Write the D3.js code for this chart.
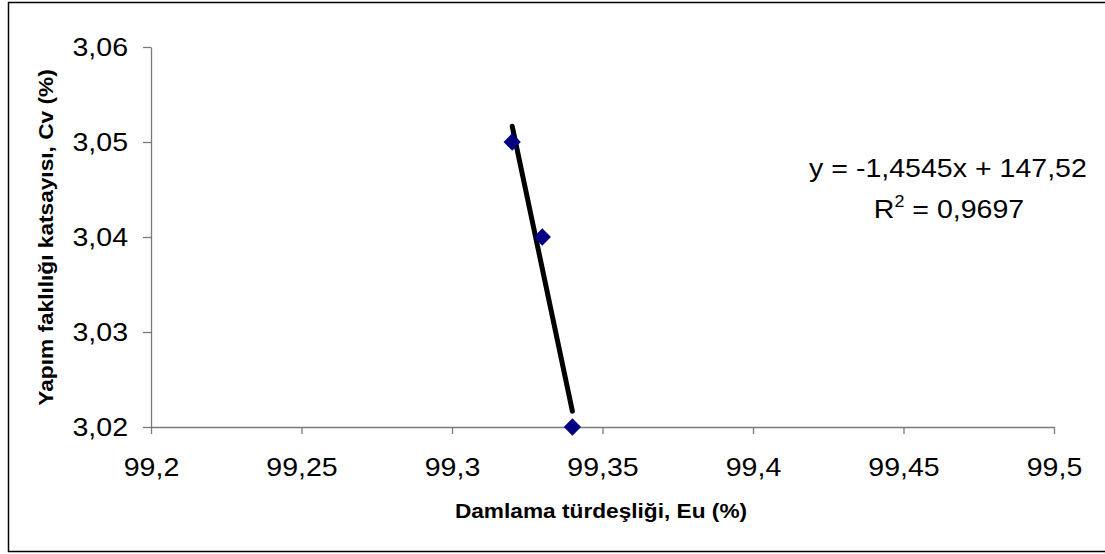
<!DOCTYPE html>
<meta charset="utf-8" />
<style>
    body { margin: 0; background: #fff; }
    text { font-family: "Liberation Sans", Arial, sans-serif; }
</style>
<title>Cv - Eu</title>
<body></body>
<script src="https://d3js.org/d3.v7.min.js"></script>
<script>

    // data
    var euValues = [99.32, 99.33, 99.34];   // Damlama türdeşliği, Eu (%)
    var cvValues = [3.05, 3.04, 3.02];      // Yapım faklılığı katsayısı, Cv (%)
    var xTicks = [99.2, 99.25, 99.3, 99.35, 99.4, 99.45, 99.5];
    var yTicks = [3.02, 3.03, 3.04, 3.05, 3.06];
    var equationText = "y = -1,4545x + 147,52";
    var r2Value = "0,9697";

    var svgWidth = 1105, svgHeight = 554;
    var margin = {top: 47, right: 51, bottom: 127, left: 151};
    var width = svgWidth - margin.left - margin.right;
    var height = svgHeight - margin.top - margin.bottom;

    // the reference text is a bit wider than Arial, stretch it
    var stretch = 1.12, titleStretch = 1.08;

    var svg = d3.select("body").append("svg")
        .attr("width", svgWidth)
        .attr("height", svgHeight);

    // outer frame
    svg.append("rect")
        .attr("x", 8.5).attr("y", 2.5)
        .attr("width", 1110).attr("height", 549)
        .attr("fill", "none")
        .attr("stroke", "#000")
        .attr("stroke-width", 1.5);

    var g = svg.append("g")
        .attr("transform", "translate(" + margin.left + "," + margin.top + ")");

    var x = d3.scaleLinear().domain([99.2, 99.5]).range([0, width]);
    var y = d3.scaleLinear().domain([3.02, 3.06]).range([height, 0]);

    var comma = function (d) { return String(+d.toFixed(2)).replace(".", ","); };

    var xAxis = g.append("g")
        .attr("transform", "translate(0," + height + ")")
        .call(d3.axisBottom(x).tickValues(xTicks).tickFormat(comma).tickSize(7).tickPadding(24).tickSizeOuter(0));

    var yAxis = g.append("g")
        .call(d3.axisLeft(y).tickValues(yTicks).tickFormat(comma).tickSize(8).tickPadding(15).tickSizeOuter(0));

    g.selectAll(".domain, .tick line").attr("stroke", "#7a7a7a").attr("stroke-width", 1.3);
    g.selectAll(".tick text")
        .attr("font-family", "'Liberation Sans', Arial, sans-serif")
        .attr("font-size", 25.5)
        .attr("fill", "#000")
        .attr("transform", "scale(" + stretch + ",1)");
    yAxis.selectAll(".tick text").attr("x", -23 / stretch);

    // linear trendline from least squares
    var n = euValues.length;
    var mx = d3.mean(euValues), my = d3.mean(cvValues);
    var sxy = 0, sxx = 0;
    for (var i = 0; i < n; i++) {
        sxy += (euValues[i] - mx) * (cvValues[i] - my);
        sxx += (euValues[i] - mx) * (euValues[i] - mx);
    }
    var slope = sxy / sxx, intercept = my - slope * mx;
    var xs = d3.extent(euValues);

    g.append("line")
        .attr("x1", x(xs[0])).attr("y1", y(intercept + slope * xs[0]))
        .attr("x2", x(xs[1])).attr("y2", y(intercept + slope * xs[1]))
        .attr("stroke", "#000")
        .attr("stroke-width", 5)
        .attr("stroke-linecap", "round");

    // diamond markers
    g.selectAll("path.pt")
        .data(euValues)
        .enter().append("path")
        .attr("class", "pt")
        .attr("d", d3.symbol(d3.symbolDiamond2, 190))
        .attr("transform", function (d, i) { return "translate(" + x(d) + "," + y(cvValues[i]) + ")"; })
        .attr("fill", "#000080");

    // equation label
    svg.append("text")
        .attr("transform", "translate(948,177) scale(" + stretch + ",1)")
        .attr("text-anchor", "middle")
        .attr("font-size", 25.5)
        .text(equationText);

    var r2 = svg.append("text")
        .attr("transform", "translate(949,218) scale(" + stretch + ",1)")
        .attr("text-anchor", "middle")
        .attr("font-size", 25.5);
    r2.append("tspan").text("R");
    r2.append("tspan").attr("dy", -11).attr("font-size", 16).text("2");
    r2.append("tspan").attr("dy", 11).text(" = " + r2Value);

    // axis titles
    svg.append("text")
        .attr("transform", "translate(601,518) scale(" + titleStretch + ",1)")
        .attr("text-anchor", "middle")
        .attr("font-size", 21)
        .attr("font-weight", "bold")
        .text("Damlama türdeşliği, Eu (%)");

    svg.append("text")
        .attr("transform", "translate(53,237.5) rotate(-90) scale(" + titleStretch + ",1)")
        .attr("text-anchor", "middle")
        .attr("font-size", 21)
        .attr("font-weight", "bold")
        .text("Yapım faklılığı katsayısı, Cv (%)");

</script>
